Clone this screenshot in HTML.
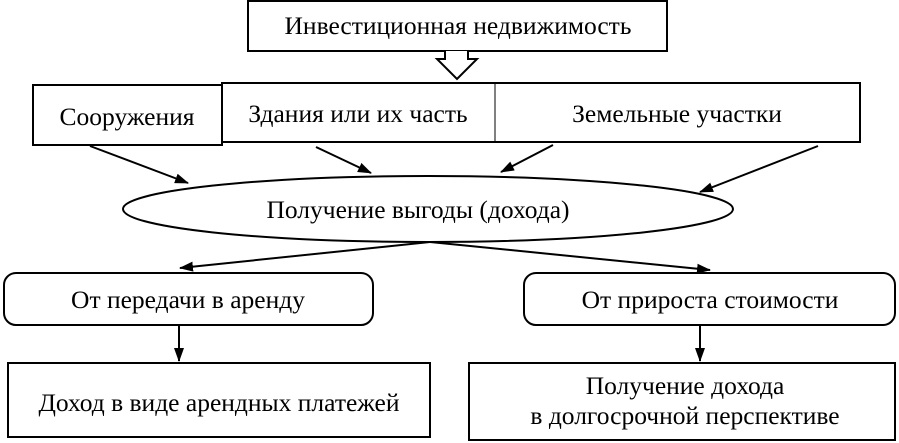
<!DOCTYPE html>
<html><head><meta charset="utf-8"><style>
html,body{margin:0;padding:0;background:#fff;}
svg{display:block;}
text{font-family:"Liberation Serif",serif;font-size:25.5px;fill:#000;}
</style></head><body>
<svg width="899" height="443" viewBox="0 0 899 443" xmlns="http://www.w3.org/2000/svg">
<defs><marker id="a" markerWidth="14" markerHeight="10" refX="13" refY="5" orient="auto" markerUnits="userSpaceOnUse"><path d="M0,0 L14,5 L0,10 Z" fill="#000"/></marker></defs>
<g fill="none" stroke="#000" stroke-width="2">
<rect x="248" y="1" width="419" height="50" fill="#fff"/>
<path d="M445,51 L445,59 L437,59 L457,79 L477,59 L468,59 L468,51" fill="#fff"/>
<rect x="33" y="85" width="189" height="60"/>
<rect x="222" y="83" width="638" height="59"/>
<line x1="495" y1="83" x2="495" y2="142" stroke-width="1"/>
<ellipse cx="428" cy="209" rx="305" ry="33"/>
<line x1="90" y1="146" x2="188" y2="183" marker-end="url(#a)"/>
<line x1="316" y1="147" x2="371" y2="173" marker-end="url(#a)"/>
<line x1="553" y1="145" x2="501" y2="172" marker-end="url(#a)"/>
<line x1="818" y1="146" x2="700" y2="192" marker-end="url(#a)"/>
<line x1="430" y1="242" x2="180" y2="268" marker-end="url(#a)"/>
<line x1="430" y1="242" x2="710" y2="270" marker-end="url(#a)"/>
<rect x="4" y="273" width="369" height="52" rx="12"/>
<rect x="524" y="273" width="371" height="52" rx="12"/>
<line x1="179" y1="325" x2="179" y2="361" marker-end="url(#a)"/>
<line x1="700" y1="325" x2="700" y2="361" marker-end="url(#a)"/>
<rect x="8" y="363" width="422" height="74"/>
<rect x="469" y="363" width="426" height="77"/>
</g>
<text x="458" y="34" text-anchor="middle">Инвестиционная недвижимость</text>
<text x="127" y="125" text-anchor="middle">Сооружения</text>
<text x="358" y="122" text-anchor="middle">Здания или их часть</text>
<text x="677" y="122" text-anchor="middle">Земельные участки</text>
<text x="418" y="218" text-anchor="middle">Получение выгоды (дохода)</text>
<text x="188" y="308" text-anchor="middle">От передачи в аренду</text>
<text x="710" y="308" text-anchor="middle">От прироста стоимости</text>
<text x="219" y="411" text-anchor="middle">Доход в виде арендных платежей</text>
<text x="685" y="394" text-anchor="middle">Получение дохода</text>
<text x="685" y="424" text-anchor="middle">в долгосрочной перспективе</text>
</svg>
</body></html>
